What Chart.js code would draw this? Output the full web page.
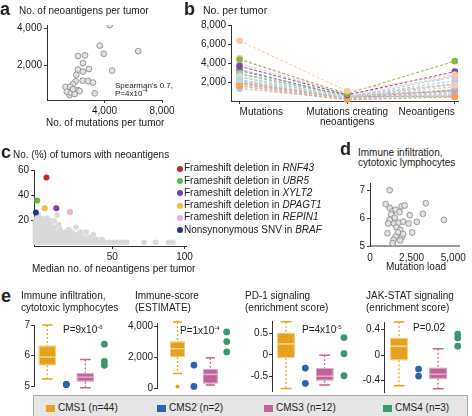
<!DOCTYPE html>
<html>
<head>
<meta charset="utf-8">
<script src="https://cdn.jsdelivr.net/npm/chart.js@4.4.1/dist/chart.umd.min.js"></script>
<style>
body{margin:0;background:#fff;}
#fig{position:relative;width:472px;height:416px;overflow:hidden;font-family:'Liberation Sans',Arial,sans-serif;color:#222;font-size:10px;}
#fig canvas{position:absolute;}
.t{position:absolute;white-space:nowrap;line-height:1;}
.big{font-weight:bold;font-size:18px;}
.sm{font-size:8px;}
sup{font-size:6px;vertical-align:4px;line-height:0;}
.dot{position:absolute;width:6px;height:6px;border-radius:50%;}
#leg{position:absolute;left:33px;top:395px;width:435px;height:24px;background:#e6e6e6;border:1px solid #aaa;box-sizing:border-box;}
.sq{position:absolute;width:9px;height:7px;}
</style>
</head>
<body>
<div id="fig">
  <canvas id="ca"></canvas>
  <canvas id="cb"></canvas>
  <canvas id="cc"></canvas>
  <canvas id="cd"></canvas>
  <canvas id="ce1"></canvas>
  <canvas id="ce2"></canvas>
  <canvas id="ce3"></canvas>
  <canvas id="ce4"></canvas>

  <div class="t big" style="left:0;top:0">a</div>
  <div class="t" style="left:19px;top:6px">No. of neoantigens per tumor</div>
  <div class="t sm" style="left:115px;top:82px">Spearman's 0.7,</div>
  <div class="t sm" style="left:115px;top:90px">P=4x10<sup>-4</sup></div>
  <div class="t" style="left:46px;top:118px">No. of mutations per tumor</div>

  <div class="t big" style="left:184px;top:0">b</div>
  <div class="t" style="left:203px;top:5px;font-size:10.5px">No. per tumor</div>

  <div class="t big" style="left:1px;top:143px">c</div>
  <div class="t" style="left:13px;top:150px">No. (%) of tumors with neoantigens</div>
  <div id="cleg"></div>
  <div class="t" style="left:32px;top:264px">Median no. of neoantigens per tumor</div>

  <div class="t big" style="left:340px;top:140px">d</div>
  <div class="t" style="left:358px;top:148px">Immune infiltration,</div>
  <div class="t" style="left:358px;top:158px">cytotoxic lymphocytes</div>
  <div class="t" style="left:366px;top:262px;width:100px;text-align:center">Mutation load</div>

  <div class="t big" style="left:1px;top:287px">e</div>
  <div class="t" style="left:21px;top:291px">Immune infiltration,</div>
  <div class="t" style="left:21px;top:303px">cytotoxic lymphocytes</div>
  <div class="t" style="left:135px;top:291px">Immune-score</div>
  <div class="t" style="left:135px;top:303px">(ESTIMATE)</div>
  <div class="t" style="left:245px;top:291px">PD-1 signaling</div>
  <div class="t" style="left:245px;top:303px">(enrichment score)</div>
  <div class="t" style="left:366px;top:291px">JAK-STAT signaling</div>
  <div class="t" style="left:366px;top:303px">(enrichment score)</div>
  <div class="t" style="left:63px;top:325px">P=9x10<sup>-6</sup></div>
  <div class="t" style="left:180px;top:326px">P=1x10<sup>-4</sup></div>
  <div class="t" style="left:302px;top:325px">P=4x10<sup>-5</sup></div>
  <div class="t" style="left:413px;top:323px">P=0.02</div>

  <div id="leg"></div>
</div>
<script>
const FONT = "'Liberation Sans', Arial, sans-serif";
Chart.defaults.font.family = FONT;
Chart.defaults.font.size = 10;
Chart.defaults.color = '#222';
Chart.defaults.animation = false;
Chart.defaults.events = [];
Chart.defaults.plugins.legend.display = false;
Chart.defaults.plugins.tooltip.enabled = false;

// ---- panels a + b : same tumours ----
const mutations   = [6346,4367,3668,1570,4530,3948,2154,2642,2503,2154,2503,2922,2038,1991,1805,2480,2852,3200,3319,1293,1619,2154,1384,1686,1921,2270,1805];
const creating    = [1046, 760, 640, 120, 560, 680, 390, 470, 430, 320, 400, 500, 350, 300, 270, 380, 460, 520, 480, 180, 230, 300, 160, 210, 250, 330, 290];
const neoantigens = [2789,4195,3089, 421,1737,2647,2526,2561,2140,1789,1680,1825,1509,1158,1000,1193,1175,1088, 510, 860, 860, 684, 596, 544, 474, 632, 737];
const tumorColors = ['#fcc6a0','#8db640','#7a4b9f','#f6a04d','#f3c8cf','#e7bfd0','#b8d6ea','#cfe2b3','#a8cfe1','#c7b8dd','#e8e2ad','#8fc0c9','#d5c0a6','#a5a5d2','#e7a6a6','#c6dba0','#9db7d6','#a57556','#7fb3c7','#c0c7e4','#f2d5ae','#d4d4d4','#bfe0e8','#dcc7e6','#c7a6cf','#aecbb3','#e5b78f'];
const stageLabels = ['Mutations', ['Mutations creating','neoantigens'], 'Neoantigens'];

// ---- panel c ----
const cKinds  = ['Frameshift deletion in ','Frameshift deletion in ','Frameshift deletion in ','Frameshift deletion in ','Frameshift deletion in ','Nonsynonymous SNV in '];
const cGenes  = ['RNF43','UBR5','XYLT2','DPAGT1','REPIN1','BRAF'];
const cMedian = [4.6, -1.8, 11.4, 3.4, 20.9, -2.7];
const cPct    = [54, 36, 29.8, 29.8, 26.9, 26.4];
const cColors = ['#c1272d','#5cbc45','#7b3fb0','#efc035','#f6aacb','#27357a'];
const cloudRowY = [3, 5, 7, 9, 11, 13, 15, 17, 20, 22, 24.5];
const cloudRowX = [
  [-3,0,3,6,9,12,15,18,21,24,27,30,33,36,39,42,45,48,51,54,57,60,72,80,89,92],
  [-3,0,3,6,9,12,15,18,21,24,27,30,33,36,39,43],
  [-3,0,3,6,9,12,15,18,21,24,27,30,34],
  [-3,0,3,6,9,12,15,18,21,24,27,37],
  [-3,0,3,6,9,12,15,18,22,28,32],
  [-3,0,3,6,9,14,20],
  [-3,0,3,6,10,25],
  [-3,0,3,7,13],
  [-3,0,4,7,10],
  [-2,1,5],
  [-1,12]
];

// ---- panel d ----
const dLoad   = [1179,942,1179,1359,1540,1902,2083,1775,1268,1486,1179,1087,1449,1721,1993,2391,2319,2808,3171,3351,4438,1594,1812,1685,2536,1051,1540,1902,1413,1812,1359,1993];
const dImmune = [7.01,6.51,6.37,6.25,6.31,6.43,6.46,6.22,6.14,6.02,5.94,5.81,5.81,5.84,5.88,6.11,5.81,5.87,6.16,6.54,5.94,5.67,5.58,5.49,5.49,5.46,5.34,5.32,5.22,5.2,5.1,5.43];

// ---- panel e : CMS groups ----
const cmsNames  = ['CMS1 (n=44)','CMS2 (n=2)','CMS3 (n=12)','CMS4 (n=3)'];
const cmsColors = ['#e9a21f','#2f62ad','#c0649b','#3b9a6d'];
const cmsLight  = ['#f7d98f','#8aa8d8','#e6b3cf','#8fd0ae'];
// box stats: [min, q1, median, q3, max]
const e1Cms1 = [5.23, 5.68, 5.95, 6.32, 7.0];
const e1Cms3 = [4.94, 5.15, 5.29, 5.42, 5.87];
const e1Cms2 = [5.05, 5.05];
const e1Cms4 = [6.37, 5.81, 5.68];
const e2Cms1 = [940, 2000, 2540, 3000, 4270];
const e2Cms1Out = [100];
const e2Cms3 = [190, 300, 880, 1230, 1960];
const e2Cms2 = [1480, 100];
const e2Cms4 = [3625, 3000, 2330];
const e3Cms1 = [-0.79, -0.07, 0.26, 0.52, 0.78];
const e3Cms3 = [-0.71, -0.6, -0.5, -0.31, -0.01];
const e3Cms2 = [-0.31, -0.67];
const e3Cms4 = [0.41, 0.03, -0.49];
const e4Cms1 = [-0.48, -0.08, 0.14, 0.27, 0.52];
const e4Cms3 = [-0.53, -0.37, -0.3, -0.2, 0.1];
const e4Cms2 = [-0.22, -0.33];
const e4Cms4 = [0.33, 0.27, 0.14];

const comma = v => v.toLocaleString('en-US');

// put a canvas so that its chart area lands on rect [x0,y0,x1,y1]
function place(id, rect, yw, xh, padTop, padRight, padBottom) {
  const c = document.getElementById(id);
  const w = rect[2] - rect[0] + yw + padRight;
  const h = rect[3] - rect[1] + padTop + xh + padBottom;
  c.width = w; c.height = h;
  c.style.width = w + 'px'; c.style.height = h + 'px';
  c.style.left = (rect[0] - yw) + 'px';
  c.style.top = (rect[1] - padTop) + 'px';
  return c;
}

function axis(min, max, ticks, fmt, size, isY, more) {
  const a = {
    type: 'linear', min: min, max: max,
    afterBuildTicks: s => { s.ticks = ticks.map(v => ({value: v})); },
    afterFit: s => { if (isY) s.width = size; else s.height = size; },
    ticks: {callback: fmt, padding: 2, maxRotation: 0, autoSkip: false, color: '#222', font: {size: 10}},
    grid: {drawOnChartArea: false, drawTicks: true, tickLength: 3, color: '#333', lineWidth: 1},
    border: {display: true, color: '#333', width: 1}
  };
  if (more) {
    for (const k in more) a[k] = (typeof more[k] === 'object' && !Array.isArray(more[k])) ? Object.assign({}, a[k], more[k]) : more[k];
  }
  return a;
}

function baseOpts(padTop, padRight, padBottom) {
  return {
    responsive: false, animation: false,
    layout: {padding: {left: 0, top: padTop, right: padRight, bottom: padBottom || 0}, autoPadding: false}
  };
}

function stipple(color) {
  const p = document.createElement('canvas');
  p.width = 3; p.height = 3;
  const g = p.getContext('2d');
  g.fillStyle = color; g.fillRect(0, 0, 3, 3);
  g.fillStyle = 'rgba(0,0,0,0.07)'; g.fillRect(1, 1, 1, 1);
  return g.createPattern(p, 'repeat');
}

// ---------- a ----------
(function () {
  const c = place('ca', [47, 23, 162, 100], 46, 20, 6, 16, 0);
  const opts = baseOpts(6, 16);
  opts.scales = {
    x: axis(0, 8000, [4000, 8000], comma, 20, false, {ticks: {padding: 2}}),
    y: axis(150, 4200, [2000, 4000], comma, 46, true)
  };
  new Chart(c, {
    type: 'scatter',
    data: {datasets: [{
      data: mutations.map((m, i) => ({x: m, y: neoantigens[i]})),
      pointRadius: 2.9, pointBackgroundColor: '#e2e2e2', pointBorderColor: '#858585', pointBorderWidth: 0.8
    }]},
    options: opts
  });
})();

// ---------- b ----------
(function () {
  const c = place('cb', [231, 23, 458, 101], 50, 26, 6, 14, 0);
  const opts = baseOpts(6, 14);
  opts.scales = {
    x: axis(-0.08, 2.03, [0, 1, 2], v => stageLabels[v], 26, false, {ticks: {padding: 3, align: 'inner', font: {size: 10, lineHeight: 1.0}}}),
    y: axis(0, 8000, [2000, 4000, 6000, 8000], comma, 50, true)
  };
  new Chart(c, {
    type: 'scatter',
    data: {datasets: mutations.map((m, i) => ({
      data: [{x: 0, y: m}, {x: 1, y: creating[i]}, {x: 2, y: neoantigens[i]}],
      showLine: true, borderColor: tumorColors[i], borderWidth: 1, borderDash: [3, 2],
      pointRadius: 3.3, pointBackgroundColor: tumorColors[i], pointBorderWidth: 0, clip: false
    }))},
    options: opts
  });
})();

// ---------- c ----------
(function () {
  const c = place('cc', [34, 168, 187, 246], 30, 20, 6, 8, 0);
  const opts = baseOpts(6, 8);
  opts.scales = {
    x: axis(-4, 101, [50, 100], v => v, 20, false),
    y: axis(0, 60, [20, 40, 60], v => v, 30, true)
  };
  const cloud = [];
  cloudRowY.forEach((y, r) => cloudRowX[r].forEach(x => cloud.push({x: x, y: y})));
  new Chart(c, {
    type: 'scatter',
    data: {datasets: [
      {data: cMedian.map((m, i) => ({x: m, y: cPct[i]})), pointRadius: 3, pointBackgroundColor: cColors, pointBorderWidth: 0, clip: false},
      {data: cloud, pointRadius: 2.8, pointBackgroundColor: '#d9d9d9', pointBorderWidth: 0, clip: false}
    ]},
    options: opts
  });
  const leg = document.getElementById('cleg');
  const rows = [168.7, 181, 193.3, 205.5, 217.6, 230.2];
  cGenes.forEach((g, i) => {
    leg.insertAdjacentHTML('beforeend',
      `<div class="dot" style="left:177px;top:${rows[i] - 3}px;background:${cColors[i]}"></div>` +
      `<div class="t" style="left:184px;top:${rows[i] - 5.5}px">${cKinds[i]}<i>${g}</i></div>`);
  });
})();

// ---------- d ----------
(function () {
  const c = place('cd', [370, 181, 469, 246], 30, 20, 6, 3, 0);
  const opts = baseOpts(6, 3);
  opts.scales = {
    x: axis(0, 5400, [0, 2500, 5000], comma, 20, false, {
      grid: {drawOnChartArea: false, drawTicks: false},
      ticks: {padding: 6},
      border: {display: true, color: '#9a9a9a', width: 2}
    }),
    y: axis(5, 7.27, [5, 6, 7], v => v, 30, true)
  };
  new Chart(c, {
    type: 'scatter',
    data: {datasets: [{
      data: dLoad.map((m, i) => ({x: m, y: dImmune[i]})),
      pointRadius: 2.9, pointBackgroundColor: '#e2e2e2', pointBorderColor: '#858585', pointBorderWidth: 0.8
    }]},
    options: opts
  });
})();

// ---------- e ----------
function boxPlugin(items) {
  return {
    id: 'boxes',
    beforeDatasetsDraw(chart) {
      const xs = chart.scales.x, ys = chart.scales.y, ctx = chart.ctx;
      items.forEach(b => {
        const cx = xs.getPixelForValue(b.pos);
        const half = (xs.getPixelForValue(b.pos + 0.45) - xs.getPixelForValue(b.pos - 0.45)) / 2;
        const cap = (xs.getPixelForValue(b.pos + 0.28) - xs.getPixelForValue(b.pos - 0.28)) / 2;
        const p = b.stats.map(v => ys.getPixelForValue(v));
        ctx.save();
        ctx.strokeStyle = b.color;
        ctx.lineWidth = 1.2;
        ctx.setLineDash([2, 2]);
        ctx.beginPath();
        ctx.moveTo(cx, p[4]); ctx.lineTo(cx, p[3]);
        ctx.moveTo(cx, p[1]); ctx.lineTo(cx, p[0]);
        ctx.stroke();
        ctx.setLineDash([]);
        ctx.lineWidth = 1.5;
        ctx.beginPath();
        ctx.moveTo(cx - cap, p[4]); ctx.lineTo(cx + cap, p[4]);
        ctx.moveTo(cx - cap, p[0]); ctx.lineTo(cx + cap, p[0]);
        ctx.stroke();
        ctx.fillStyle = stipple(b.color);
        ctx.fillRect(cx - half, p[3], 2 * half, p[1] - p[3]);
        ctx.strokeStyle = b.light;
        ctx.lineWidth = 0.8;
        ctx.strokeRect(cx - half + 0.5, p[3] + 0.5, 2 * half - 1, p[1] - p[3] - 1);
        ctx.lineWidth = 1.4;
        ctx.beginPath();
        ctx.moveTo(cx - half, p[2]); ctx.lineTo(cx + half, p[2]);
        ctx.stroke();
        ctx.restore();
      });
    }
  };
}

function boxPanel(id, rect, yMin, yMax, yTicks, fmt, xMin, xMax, cms1, cms2, cms3, cms4, cms1Out) {
  const c = place(id, rect, 34, 0, 6, 4, 6);
  const opts = baseOpts(6, 4, 6);
  opts.scales = {
    x: {type: 'linear', min: xMin, max: xMax, display: false},
    y: axis(yMin, yMax, yTicks, fmt, 34, true, {ticks: {padding: 1}})
  };
  const dots = (vals, pos, col, r) => ({
    data: vals.map(v => ({x: pos, y: v})), pointRadius: r,
    pointBackgroundColor: stipple(col), pointBorderWidth: 0, clip: false
  });
  const ds = [dots(cms2, 2, cmsColors[1], 3.4), dots(cms4, 4, cmsColors[3], 3.4)];
  if (cms1Out) ds.push(dots(cms1Out, 1, cmsColors[0], 2));
  new Chart(c, {
    type: 'scatter',
    data: {datasets: ds},
    options: opts,
    plugins: [boxPlugin([
      {pos: 1, stats: cms1, color: cmsColors[0], light: cmsLight[0]},
      {pos: 3, stats: cms3, color: cmsColors[2], light: cmsLight[2]}
    ])]
  });
}

boxPanel('ce1', [34, 324, 112, 387], 5, 7, [5, 6, 7], v => v, 0.3, 4.4, e1Cms1, e1Cms2, e1Cms3, e1Cms4);
boxPanel('ce2', [157, 322, 232, 389], 0, 4200, [0, 2000, 4000], comma, -0.25, 4.32, e2Cms1, e2Cms2, e2Cms3, e2Cms4, e2Cms1Out);
boxPanel('ce3', [272, 320, 350, 392], -0.85, 0.8, [-0.5, 0, 0.5], v => v, 0.276, 4.31, e3Cms1, e3Cms2, e3Cms3, e3Cms4);
boxPanel('ce4', [384, 321, 463, 393], -0.58, 0.52, [-0.4, 0, 0.4], v => v, 0.233, 4.27, e4Cms1, e4Cms2, e4Cms3, e4Cms4);

// bottom legend
(function () {
  const leg = document.getElementById('leg');
  const sqX = [12, 123, 230, 349];
  cmsNames.forEach((n, i) => {
    leg.insertAdjacentHTML('beforeend',
      `<div class="sq" style="left:${sqX[i]}px;top:9px;background:${cmsColors[i]}"></div>` +
      `<div class="t" style="left:${sqX[i] + 12}px;top:7px">${n}</div>`);
  });
})();
</script>
</body>
</html>
